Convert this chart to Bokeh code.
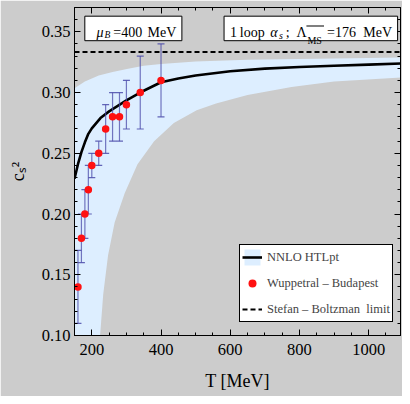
from bokeh.plotting import figure
from bokeh.models import (ColumnDataSource, Label, BoxAnnotation, Legend, LegendItem,
                          LinearAxis, SingleIntervalTicker, PrintfTickFormatter, Range1d,
                          CustomJSTickFormatter)
from bokeh.embed import file_html
from bokeh.resources import INLINE

# ---------------- data ----------------
# lattice (Wuppertal-Budapest) points
T_lat = [160, 170, 180, 190, 200, 220, 240, 260, 280, 300, 340, 400]
cs2_lat = [0.14, 0.18, 0.20, 0.22, 0.24, 0.25, 0.27, 0.28, 0.28, 0.29, 0.30, 0.31]
cs2_lat_lo = [0.11, 0.16, 0.18, 0.20, 0.23, 0.24, 0.25, 0.26, 0.26, 0.27, 0.27, 0.28]
cs2_lat_hi = [0.17, 0.20, 0.22, 0.24, 0.25, 0.26, 0.29, 0.30, 0.30, 0.31, 0.33, 0.34]

# NNLO HTLpt central curve
T_htl = [150, 160, 170, 180, 190, 200, 225, 250, 275, 300, 350, 400, 450, 500,
         600, 700, 800, 900, 1000, 1100]
cs2_htl = [0.229, 0.241, 0.251, 0.259, 0.266, 0.2705, 0.279, 0.2845, 0.289, 0.2935,
           0.3015, 0.3085, 0.3115, 0.314, 0.3175, 0.3197, 0.321, 0.322, 0.323, 0.324]

# band: upper and lower edges
T_up = [150, 180, 220, 260, 305, 350, 400, 500, 650, 900, 1100]
cs2_up = [0.3035, 0.309, 0.314, 0.317, 0.3195, 0.322, 0.3235, 0.3255, 0.327, 0.328, 0.3288]
T_lo = [224, 233, 247, 266, 295, 332, 380, 437, 503, 559, 650, 777, 900, 1100]
cs2_lo = [0.10, 0.134, 0.166, 0.193, 0.217, 0.241, 0.260, 0.275, 0.2855, 0.291,
          0.298, 0.3045, 0.309, 0.3125]

SB_LIMIT = 1.0 / 3.0
X_MIN, X_MAX = 150, 1092
Y_MIN, Y_MAX = 0.10, 0.37

FONT = "Liberation Serif"

# layout helpers (reference pixel -> frame screen units)
W, H = 402, 396
SX, SY = W / 410.0, H / 404.0
FL, FB = 74, 335   # frame left / bottom in canvas px


def fx(px):
    return px * SX - FL


def fy(py):
    return FB - py * SY


# ---------------- figure ----------------
p = figure(width=W, height=H, x_range=Range1d(X_MIN, X_MAX), y_range=Range1d(Y_MIN, Y_MAX),
           output_backend="svg", toolbar_location=None,
           min_border_left=FL, min_border_right=2, min_border_top=7, min_border_bottom=H - FB,
           background_fill_color="#cccccc", border_fill_color="#cccccc",
           outline_line_color="black", outline_line_width=1)
p.grid.visible = False

band_x = T_up + T_lo[::-1] + [T_up[0]]
band_y = cs2_up + cs2_lo[::-1] + [Y_MIN]
band = p.patch(band_x, band_y, fill_color="#ddeeff", line_color=None)

sb = p.line([X_MIN, 1100], [SB_LIMIT, SB_LIMIT], line_color="black", line_width=2,
            line_dash="5 3")

htl = p.line(T_htl, cs2_htl, line_color="black", line_width=2.6)

src = ColumnDataSource(dict(T=T_lat, c=cs2_lat, lo=cs2_lat_lo, hi=cs2_lat_hi))
err_col = "#4b4baa"
p.segment(x0="T", y0="lo", x1="T", y1="hi", source=src, line_color=err_col,
          line_alpha=0.75, line_width=1.2)
p.scatter(x="T", y="lo", source=src, marker="dash", size=7, line_color=err_col,
          line_alpha=0.85, line_width=1.2)
p.scatter(x="T", y="hi", source=src, marker="dash", size=7, line_color=err_col,
          line_alpha=0.85, line_width=1.2)
pts = p.scatter(x="T", y="c", source=src, marker="circle", size=7.5,
                fill_color="#ff1111", line_color=None)

# ---------------- axes ----------------
xt = SingleIntervalTicker(interval=200, num_minor_ticks=4)
yt = SingleIntervalTicker(interval=0.05, num_minor_ticks=5)
xa = p.xaxis[0]
ya = p.yaxis[0]
xa.ticker = xt
ya.ticker = yt
ya.formatter = PrintfTickFormatter(format="%.2f")
for ax in (xa, ya):
    ax.major_tick_in = 6
    ax.major_tick_out = 0
    ax.minor_tick_in = 3
    ax.minor_tick_out = 0
    ax.axis_line_color = "black"
    ax.major_tick_line_color = "black"
    ax.minor_tick_line_color = "black"
    ax.major_label_text_font = FONT
    ax.major_label_text_font_size = "16.5px"
    ax.major_label_text_color = "black"
    ax.axis_label_text_font = FONT
    ax.axis_label_text_font_style = "normal"
    ax.axis_label_text_color = "black"
xa.major_label_standoff = 8
ya.major_label_standoff = 4
xa.axis_label = "T [MeV]"
xa.axis_label_text_font_size = "18px"
xa.axis_label_standoff = 13
ya.axis_label = "cₛ²"
ya.axis_label_text_font_size = "18px"
ya.axis_label_standoff = 11

empty = CustomJSTickFormatter(code="return ''")
for loc, tk in (("above", xt), ("right", yt)):
    ax = LinearAxis(ticker=tk, formatter=empty, major_tick_in=6, major_tick_out=0,
                    minor_tick_in=3, minor_tick_out=0, major_label_standoff=0,
                    axis_line_color="black", major_tick_line_color="black",
                    minor_tick_line_color="black")
    p.add_layout(ax, loc)

# ---------------- annotation boxes ----------------
for (l, r) in ((86, 185), (228, 405)):
    p.add_layout(BoxAnnotation(left=fx(l), right=fx(r), bottom=fy(41), top=fy(16),
                               left_units="screen", right_units="screen",
                               bottom_units="screen", top_units="screen",
                               fill_color="white", fill_alpha=1, line_color="black",
                               line_width=1, line_alpha=1))

pieces = [
    ("μ", 98, 32.5, "14px", "italic"),
    ("B", 106, 35.5, "9.5px", "italic"),
    ("=400", 115, 32.5, "14px", "normal"),
    ("MeV", 150, 32.5, "14px", "normal"),
    ("1", 234, 32.5, "14px", "normal"),
    ("loop", 244, 32.5, "14px", "normal"),
    ("α", 275, 32.5, "14px", "italic"),
    ("s", 284, 35.5, "10px", "italic"),
    (";", 291, 32.5, "14px", "normal"),
    ("Λ", 302, 32.5, "14px", "normal"),
    ("MS", 313, 40.5, "10px", "normal"),
    ("=176", 333, 32.5, "14px", "normal"),
    ("MeV", 370, 32.5, "14px", "normal"),
]
for txt, x, y, fs, st in pieces:
    p.add_layout(Label(x=fx(x), y=fy(y), x_units="screen", y_units="screen", text=txt,
                       text_font=FONT, text_font_size=fs, text_font_style=st,
                       text_align="left", text_baseline="alphabetic", text_color="black"))
# overline of MS-bar
p.add_layout(BoxAnnotation(left=fx(312), right=fx(330), bottom=fy(26.5), top=fy(25.5),
                           left_units="screen", right_units="screen",
                           bottom_units="screen", top_units="screen",
                           fill_color="black", fill_alpha=1, line_color=None))

# ---------------- legend ----------------
legend = Legend(items=[LegendItem(label="NNLO HTLpt", renderers=[band, htl]),
                       LegendItem(label="Wuppetral – Budapest", renderers=[pts]),
                       LegendItem(label="Stefan – Boltzman  limit", renderers=[sb])],
                location=(int(round(fx(244))), int(round(fy(329)))), orientation="vertical",
                label_text_font=FONT, label_text_font_size="12.5px",
                glyph_width=20, glyph_height=20, label_height=20, spacing=6,
                padding=2, margin=0, label_standoff=5,
                border_line_color="black", border_line_width=1, border_line_alpha=1,
                background_fill_color="white", background_fill_alpha=1)
p.add_layout(legend, "center")

open("out.html", "w").write(file_html(p, INLINE))
